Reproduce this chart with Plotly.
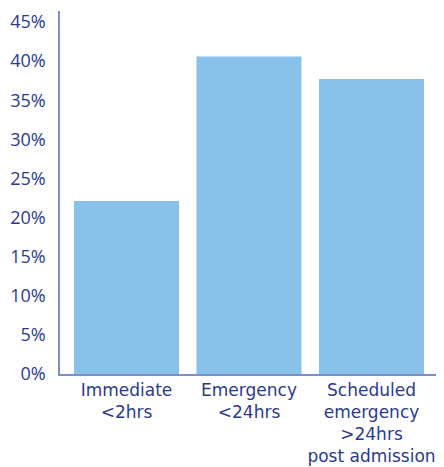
import plotly.graph_objects as go

categories = ["Immediate<br><2hrs", "Emergency<br><24hrs", "Scheduled<br>emergency<br>>24hrs<br>post admission"]
values = [0.221, 0.406, 0.377]
tick_vals = [0, 0.05, 0.10, 0.15, 0.20, 0.25, 0.30, 0.35, 0.40, 0.45]

text_color = "#2B3A8E"
axis_color = "#7B90C9"
bar_color = "#88C1EA"

fig = go.Figure(go.Bar(x=categories, y=values, marker=dict(color=bar_color, line=dict(width=0))))

# page body has an 8px default margin, so the figure is offset by 8px
fig.update_layout(
    width=436, height=459,
    margin=dict(l=52, r=0, t=3, b=93),
    plot_bgcolor="white", paper_bgcolor="white",
    bargap=0.143,
    showlegend=False,
    font=dict(family="Open Sans, sans-serif", color=text_color, size=17),
)
fig.update_xaxes(
    type="category",
    range=[-0.543, 2.592],
    automargin=False,
    showline=True, linecolor=axis_color, linewidth=1.5,
    showgrid=False, ticks="",
    tickfont=dict(family="DejaVu Sans, sans-serif", size=17, color=text_color),
    tickangle=0,
)
fig.update_yaxes(
    range=[0, 0.464],
    automargin=False,
    tickvals=tick_vals, tickformat=".0%",
    showline=True, linecolor=axis_color, linewidth=1.5,
    showgrid=False, zeroline=False, ticks="",
    ticklabelstandoff=9,
    tickfont=dict(family="Open Sans, sans-serif", size=18, color=text_color),
)

fig.write_html("out.html")
